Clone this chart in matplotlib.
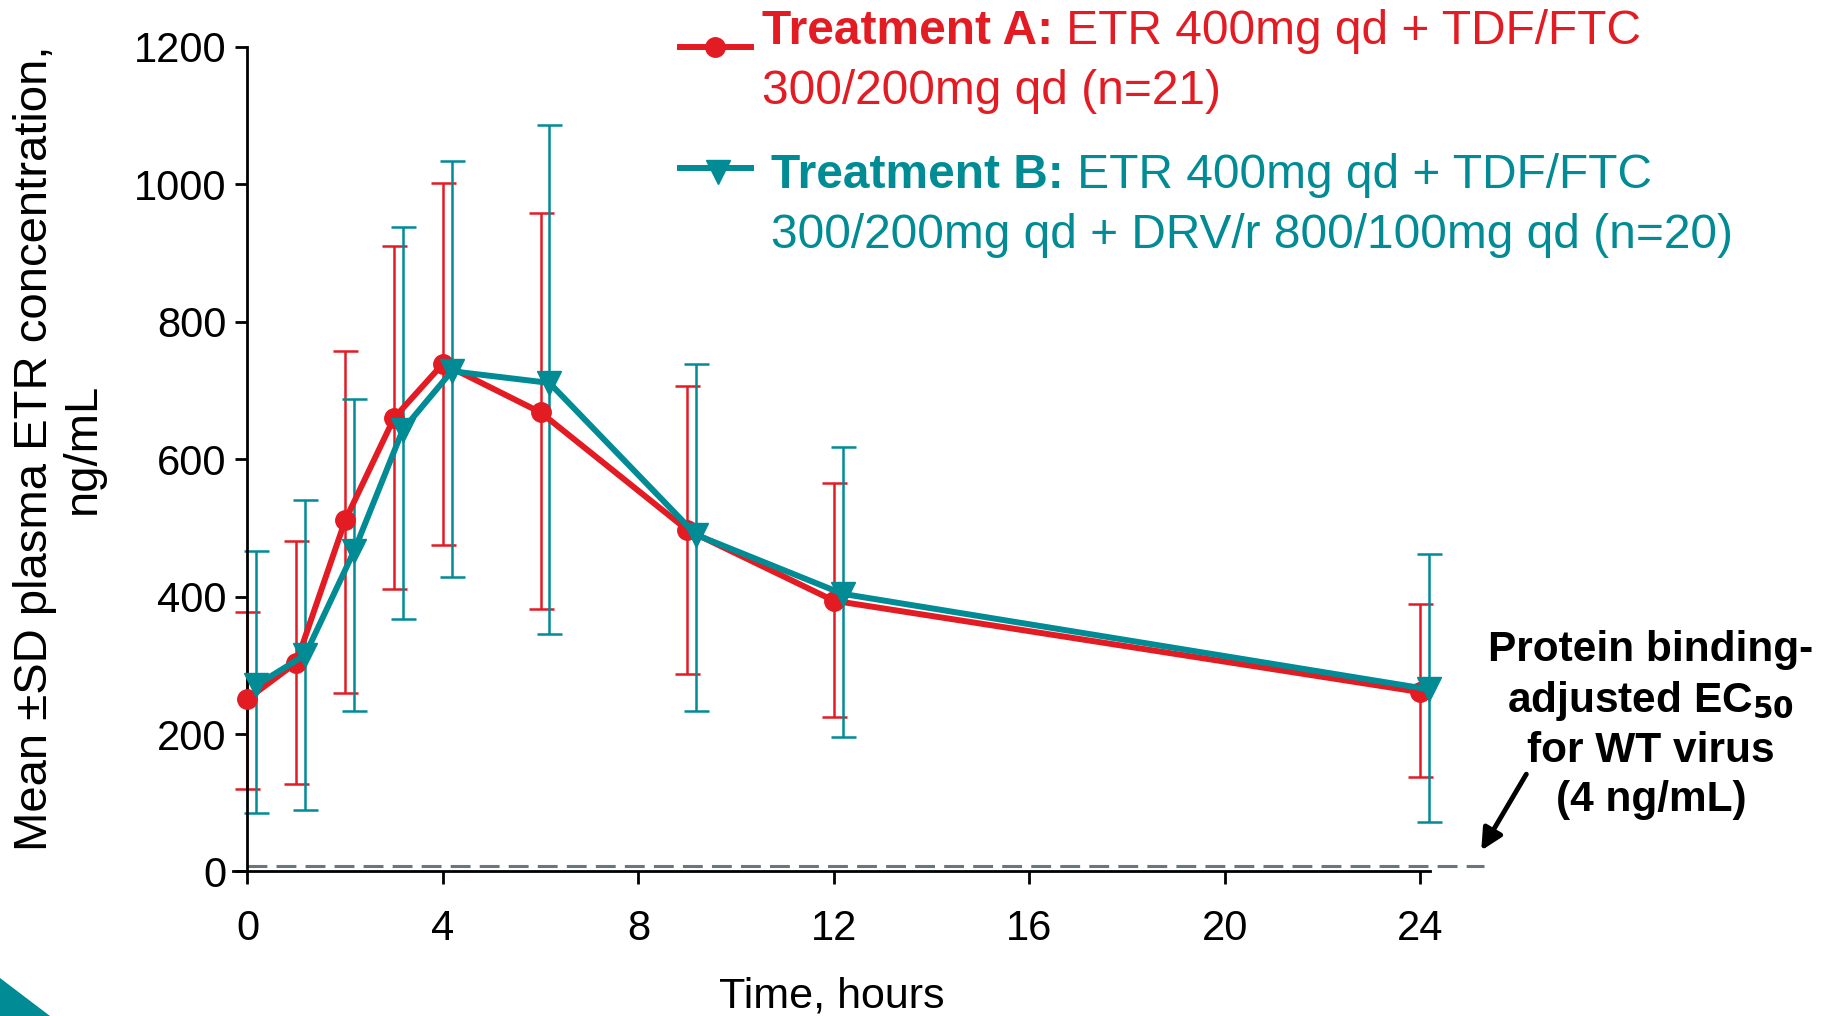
import matplotlib
matplotlib.use("Agg")
import matplotlib.pyplot as plt
from matplotlib.lines import Line2D
from matplotlib.patches import Polygon

plt.rcParams['font.family'] = ['Liberation Sans', 'DejaVu Sans']

# data (ng/mL)
hours = [0, 1, 2, 3, 4, 6, 9, 12, 24]
mean_a = [251, 304, 511, 660, 739, 668, 497, 394, 261]
upper_a = [378, 481, 758, 911, 1002, 959, 706, 565, 389]
lower_a = [120, 127, 260, 411, 475, 382, 287, 225, 138]
mean_b = [271, 315, 466, 643, 728, 711, 490, 404, 265]
upper_b = [467, 540, 687, 938, 1034, 1087, 739, 618, 462]
lower_b = [85, 89, 234, 367, 429, 345, 234, 195, 72]
ec50_line = 8  # drawn height of the EC50 line

xticks = [0, 4, 8, 12, 16, 20, 24]
yticks = [0, 200, 400, 600, 800, 1000, 1200]

red = '#E31B23'
teal = '#008B95'
b_shift = 0.18  # treatment B drawn slightly to the right

fig = plt.figure(figsize=(18.39, 10.16), dpi=100)
ax = fig.add_axes([0.1266, 0.1423, 0.651, 0.8115])

err_a = [[m - l for m, l in zip(mean_a, lower_a)], [u - m for u, m in zip(upper_a, mean_a)]]
err_b = [[m - l for m, l in zip(mean_b, lower_b)], [u - m for u, m in zip(upper_b, mean_b)]]
xb = [h + b_shift for h in hours]

ax.errorbar(hours, mean_a, yerr=err_a, fmt='none', ecolor=red, elinewidth=1.8,
            capsize=9, capthick=1.8, zorder=2, clip_on=False)
ax.errorbar(xb, mean_b, yerr=err_b, fmt='none', ecolor=teal, elinewidth=1.8,
            capsize=9, capthick=1.8, zorder=2, clip_on=False)
ax.plot(hours, mean_a, color=red, lw=4.3, marker='o', ms=14, zorder=3, clip_on=False)
ax.plot(xb, mean_b, color=teal, lw=4.3, marker='v', ms=17, zorder=4, clip_on=False)

# EC50 line
ax.plot([0, 25.3], [ec50_line, ec50_line], color='#6B7580', lw=2.2, ls=(0, (6.5, 3)),
        zorder=1, clip_on=False)

ax.set_xlim(-0.3, 24.2)
ax.set_ylim(0, 1200)
ax.set_xticks(xticks)
ax.set_yticks(yticks)
ax.spines['left'].set_position(('data', 0))
ax.spines['top'].set_visible(False)
ax.spines['right'].set_visible(False)
for s in ['left', 'bottom']:
    ax.spines[s].set_linewidth(2)
ax.tick_params(axis='both', labelsize=30, width=2, length=9, direction='out')
ax.tick_params(axis='x', pad=18)
ax.tick_params(axis='y', pad=6)

ax.set_xlabel('Time, hours', fontsize=31, labelpad=20)
fig.text(0.032, 0.559, 'Mean \u00b1SD plasma ETR concentration,\nng/mL', rotation=90,
         fontsize=34, ha='center', va='center', multialignment='center', linespacing=1.12)

# legend drawn by hand
fig.add_artist(Line2D([680 / 1839, 751 / 1839], [1 - 47 / 1016] * 2, color=red, lw=4.3))
fig.add_artist(Line2D([715 / 1839], [1 - 47 / 1016], color=red, marker='o', ms=14))
fig.add_artist(Line2D([680 / 1839, 751 / 1839], [1 - 168 / 1016] * 2, color=teal, lw=4.3))
fig.add_artist(Line2D([718 / 1839], [1 - 172 / 1016], color=teal, marker='v', ms=17))

leg_fs = 34.5
t = fig.text(762 / 1839, 1 - 32 / 1016, 'Treatment A:', color=red, fontsize=leg_fs,
             fontweight='bold', va='center')
ax.annotate(' ETR 400mg qd + TDF/FTC', xy=(1, 0.5), xycoords=t, va='center',
            fontsize=leg_fs, color=red)
fig.text(762 / 1839, 1 - 91 / 1016, '300/200mg qd (n=21)', color=red, fontsize=leg_fs, va='center')
t = fig.text(771 / 1839, 1 - 176 / 1016, 'Treatment B:', color=teal, fontsize=leg_fs,
             fontweight='bold', va='center')
ax.annotate(' ETR 400mg qd + TDF/FTC', xy=(1, 0.5), xycoords=t, va='center',
            fontsize=leg_fs, color=teal)
fig.text(771 / 1839, 1 - 235 / 1016, '300/200mg qd + DRV/r 800/100mg qd (n=20)', color=teal,
         fontsize=leg_fs, va='center')

# EC50 annotation
fig.text(1651 / 1839, 1 - 725 / 1016,
         'Protein binding-\nadjusted EC$_{\\mathbf{50}}$\nfor WT virus\n(4 ng/mL)',
         fontsize=30.5, fontweight='bold', ha='center', va='center', linespacing=1.27)
ax.annotate('', xy=(25.22, 27), xytext=(26.2, 145),
            arrowprops=dict(arrowstyle='-|>', color='black', lw=3.5, mutation_scale=32),
            annotation_clip=False)

# corner decoration
fig.add_artist(Polygon([[0, 0], [50 / 1839, 0], [0, 38 / 1016]], closed=True,
                       transform=fig.transFigure, color=teal, lw=0))

fig.savefig('out.png', dpi=100)
